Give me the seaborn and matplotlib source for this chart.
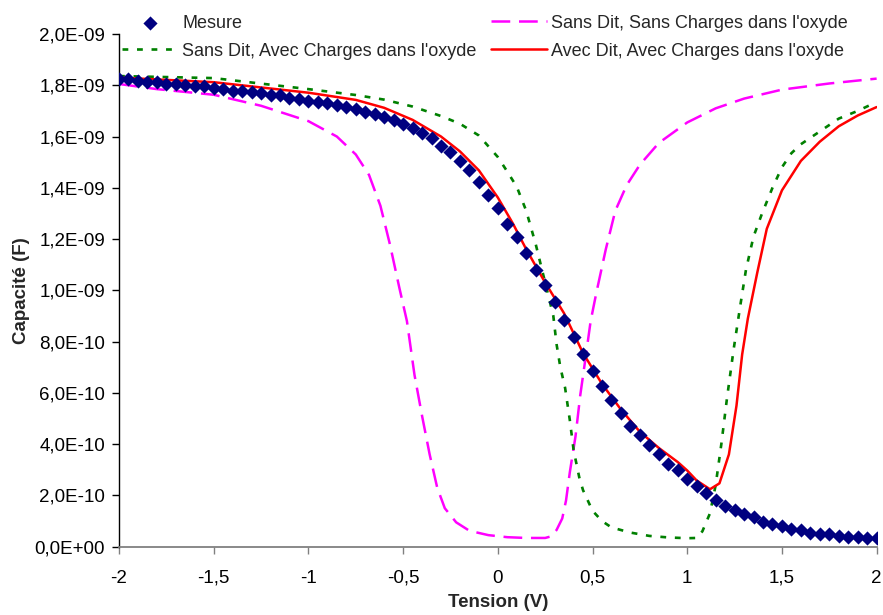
import numpy as np
import pandas as pd
import matplotlib
matplotlib.use("Agg")
import matplotlib.pyplot as plt
import seaborn as sns
from matplotlib.ticker import FuncFormatter, MultipleLocator

# Measured C(V) sweep, 50 mV step (capacitance in nF)
tension_mesure = np.round(np.arange(-2.0, 2.0001, 0.05), 2)
capa_mesure = [
    1.823, 1.824, 1.818, 1.813, 1.812, 1.806, 1.806, 1.801, 1.797, 1.797,
    1.789, 1.784, 1.779, 1.779, 1.773, 1.769, 1.763, 1.763, 1.752, 1.745,
    1.740, 1.736, 1.731, 1.723, 1.714, 1.707, 1.697, 1.687, 1.675, 1.665,
    1.650, 1.632, 1.615, 1.593, 1.564, 1.539, 1.506, 1.468, 1.424, 1.372,
    1.322, 1.259, 1.207, 1.145, 1.081, 1.020, 0.955, 0.884, 0.818,
    0.752, 0.687, 0.627, 0.572, 0.523, 0.472, 0.435, 0.397, 0.362, 0.324,
    0.298, 0.265, 0.238, 0.209, 0.183, 0.160, 0.144, 0.128,
    0.116, 0.096, 0.087, 0.081, 0.069, 0.064, 0.053, 0.048, 0.048, 0.043,
    0.038, 0.038, 0.033, 0.033,
]

# Simulation: no Dit, no oxide charges
tension_ss = [-2.0, -1.8, -1.5, -1.25, -1.0, -0.85, -0.75, -0.68, -0.62, -0.57,
              -0.52, -0.48, -0.44, -0.40, -0.36, -0.32, -0.28, -0.22, -0.15, -0.05,
              0.05, 0.15, 0.25, 0.28, 0.31, 0.34, 0.36, 0.38, 0.41, 0.435,
              0.46, 0.49, 0.52, 0.57, 0.62, 0.68, 0.75, 0.85, 1.0, 1.15,
              1.3, 1.5, 1.75, 2.0]
capa_ss = [1.805, 1.785, 1.763, 1.720, 1.660, 1.600, 1.530, 1.450, 1.330, 1.180,
           1.010, 0.880, 0.670, 0.510, 0.360, 0.230, 0.150, 0.095, 0.062, 0.045,
           0.037, 0.034, 0.034, 0.040, 0.065, 0.110, 0.180, 0.290, 0.430, 0.590,
           0.720, 0.880, 0.990, 1.160, 1.310, 1.410, 1.490, 1.575, 1.655, 1.710,
           1.748, 1.783, 1.807, 1.826]

# Simulation: no Dit, with oxide charges
tension_sa = [-2.0, -1.5, -1.0, -0.75, -0.6, -0.45, -0.3, -0.2, -0.1, 0.0,
              0.05, 0.1, 0.15, 0.2, 0.25, 0.293, 0.31, 0.33, 0.355, 0.38,
              0.40, 0.43, 0.45, 0.5, 0.55, 0.6, 0.7, 0.8, 0.9, 1.0,
              1.05, 1.08, 1.12, 1.15, 1.18, 1.21, 1.245, 1.28, 1.31, 1.35,
              1.395, 1.45, 1.5, 1.55, 1.6, 1.7, 1.8, 1.9, 2.0]
capa_sa = [1.836, 1.828, 1.785, 1.762, 1.744, 1.717, 1.680, 1.650, 1.604, 1.520,
           1.463, 1.404, 1.310, 1.180, 1.030, 0.900, 0.790, 0.700, 0.620, 0.494,
           0.377, 0.270, 0.220, 0.140, 0.100, 0.075, 0.055, 0.042, 0.036, 0.033,
           0.034, 0.060, 0.130, 0.240, 0.400, 0.580, 0.770, 0.940, 1.080, 1.210,
           1.300, 1.400, 1.480, 1.535, 1.570, 1.620, 1.670, 1.700, 1.735]

# Simulation: with Dit and oxide charges
tension_aa = [-2.0, -1.5, -1.0, -0.75, -0.6, -0.45, -0.3, -0.2, -0.1, 0.0,
              0.08, 0.15, 0.25, 0.35, 0.45, 0.55, 0.65, 0.75, 0.85, 0.95,
              1.0, 1.05, 1.12, 1.17, 1.22, 1.26, 1.29, 1.32, 1.37, 1.42,
              1.5, 1.6, 1.7, 1.8, 1.9, 2.0]
capa_aa = [1.830, 1.812, 1.771, 1.743, 1.712, 1.665, 1.600, 1.542, 1.468, 1.362,
           1.260, 1.160, 1.030, 0.910, 0.755, 0.635, 0.535, 0.448, 0.385, 0.330,
           0.297, 0.258, 0.224, 0.247, 0.360, 0.550, 0.750, 0.890, 1.070, 1.240,
           1.390, 1.505, 1.580, 1.640, 1.682, 1.715]

labels = {
    "mes": "Mesure",
    "ss": "Sans Dit, Sans Charges dans l'oxyde",
    "sa": "Sans Dit, Avec Charges dans l'oxyde",
    "aa": "Avec Dit, Avec Charges dans l'oxyde",
}

nF = 1e-9
df_mes = pd.DataFrame({"V": tension_mesure, "C": np.array(capa_mesure) * nF})
df_ss = pd.DataFrame({"V": tension_ss, "C": np.array(capa_ss) * nF})
df_sa = pd.DataFrame({"V": tension_sa, "C": np.array(capa_sa) * nF})
df_aa = pd.DataFrame({"V": tension_aa, "C": np.array(capa_aa) * nF})

sns.set_style("ticks")
plt.rcParams["font.family"] = ["Liberation Sans", "DejaVu Sans"]

fig = plt.figure(figsize=(8.83, 6.15), dpi=100)
ax = fig.add_axes([0.1348, 0.1111, 0.858, 0.8336])

sns.lineplot(data=df_ss, x="V", y="C", ax=ax, color="#FF00FF", lw=1.8,
             linestyle=(0, (7.5, 3.5)), label=labels["ss"], zorder=2)
sns.lineplot(data=df_sa, x="V", y="C", ax=ax, color="#008000", lw=1.9,
             linestyle=(0, (2.2, 3.3)), label=labels["sa"], zorder=3)
sns.lineplot(data=df_aa, x="V", y="C", ax=ax, color="#FF0000", lw=1.8,
             linestyle="-", label=labels["aa"], zorder=4)
sns.scatterplot(data=df_mes, x="V", y="C", ax=ax, color="#000080", marker="D",
                s=52, linewidth=0, label=labels["mes"], zorder=5)

ax.set_xlim(-2, 2)
ax.set_ylim(0, 2e-9)
ax.xaxis.set_major_locator(MultipleLocator(0.5))
ax.yaxis.set_major_locator(MultipleLocator(0.2e-9))


def fmt_x(v, pos):
    s = ("%g" % round(v, 2)).replace(".", ",")
    return "0" if s in ("-0", "0") else s


def fmt_y(v, pos):
    return ("%.1E" % (0.0 if abs(v) < 1e-15 else v)).replace(".", ",")


ax.xaxis.set_major_formatter(FuncFormatter(fmt_x))
ax.yaxis.set_major_formatter(FuncFormatter(fmt_y))

for side in ("top", "right"):
    ax.spines[side].set_visible(False)
ax.spines["left"].set_color("black")
ax.spines["left"].set_linewidth(1.0)
ax.spines["bottom"].set_color("#808080")
ax.spines["bottom"].set_linewidth(1.3)

ax.tick_params(axis="both", direction="out", length=5, width=1, labelsize=13.5,
               labelcolor="black")
ax.tick_params(axis="x", color="#808080", pad=11.5)
ax.tick_params(axis="y", color="black", pad=5)

ax.set_xlabel("Tension (V)", fontsize=13.5, fontweight="bold")
ax.set_ylabel("Capacité (F)", fontsize=13.5, fontweight="bold")
ax.xaxis.set_label_coords(0.5, -0.092)
ax.yaxis.set_label_coords(-0.118, 0.5)

h, l = ax.get_legend_handles_labels()
order = [labels["mes"], labels["sa"], labels["ss"], labels["aa"]]
hl = dict(zip(l, h))
ax.legend([hl[k] for k in order], order, ncol=2, frameon=False, fontsize=13,
          loc="upper left", bbox_to_anchor=(-0.005, 1.052), handlelength=3.1,
          handletextpad=0.22, columnspacing=0.8, labelspacing=0.62,
          scatterpoints=1, borderaxespad=0)

fig.savefig("out.png", dpi=100)
